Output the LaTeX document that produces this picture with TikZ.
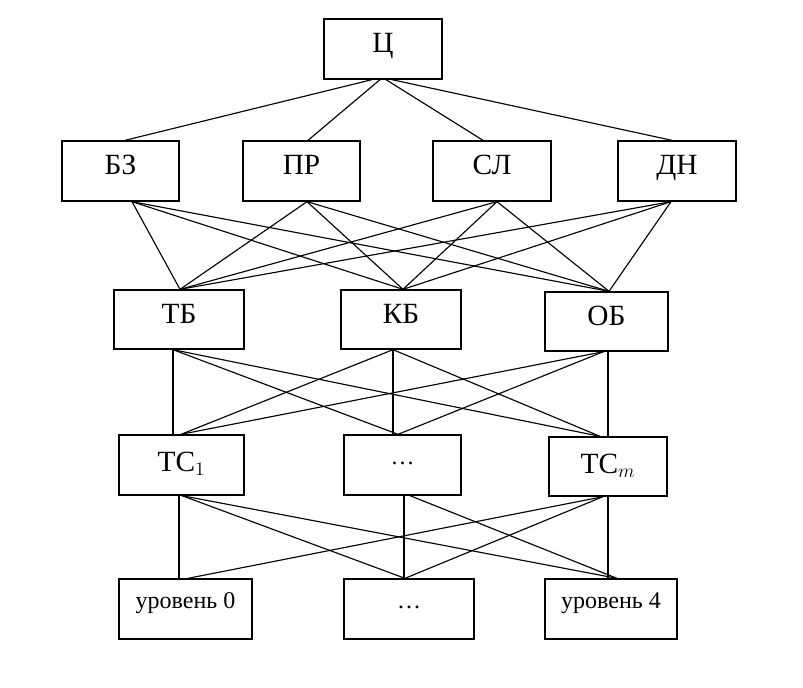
\documentclass[tikz,border=0pt]{standalone}
\usepackage{fontspec}
\setmainfont{Liberation Serif}
\usetikzlibrary{calc}
\begin{document}
\begin{tikzpicture}[x=0.75pt,y=-0.75pt,
  box/.style={draw, line width=1pt, inner sep=0pt, font=\fontsize{22}{26}\selectfont, text height=14.5pt, text depth=8.5pt},
  tcbox/.style={box, text height=14.5pt, text depth=4.5pt},
  lvbox/.style={box, font=\fontsize{18}{21}\selectfont, text height=11pt, text depth=12.5pt},
  link/.style={line width=0.85pt}]
\useasboundingbox (0,0) rectangle (803,688);
% level 1
\node[box, minimum width=88.5pt, minimum height=45pt] (c) at (383,49) {Ц};
% level 2
\node[box, minimum width=87.75pt, minimum height=45pt] (bz) at (120.5,171) {БЗ};
\node[box, minimum width=87.75pt, minimum height=45pt] (pr) at (301.5,171) {ПР};
\node[box, minimum width=88.5pt, minimum height=45pt] (sl) at (492,171) {СЛ};
\node[box, minimum width=88.5pt, minimum height=45pt] (dn) at (677,171) {ДН};
% level 3
\node[box, minimum width=97.5pt, minimum height=44.25pt] (tb) at (179,319.5) {ТБ};
\node[box, minimum width=90pt, minimum height=44.25pt] (kb) at (401,319.5) {КБ};
\node[box, minimum width=92.25pt, minimum height=44.25pt] (ob) at (606.5,321.5) {ОБ};
% level 4
\node[tcbox, minimum width=93.75pt, minimum height=45pt] (tc1) at (181.5,465) {ТС$_1$\hspace{12pt}};
\node[tcbox, font=\fontsize{18}{21}\selectfont, minimum width=87.75pt, minimum height=45pt] (tcd) at (402.5,465) {\raisebox{0.28em}{…}\hspace{13pt}};
\node[tcbox, minimum width=88.5pt, minimum height=44.25pt] (tcm) at (608,466.5) {ТС$_m$\hspace{13pt}};
% level 5
\node[lvbox, minimum width=99.75pt, minimum height=45pt] (l0) at (185.5,609) {уровень 0};
\node[lvbox, minimum width=97.5pt, minimum height=45pt] (ld) at (409,609) {…\hspace{13.5pt}};
\node[lvbox, minimum width=99pt, minimum height=45pt] (l4) at (611,609) {уровень 4};
% level 1 -> 2
\draw[link] ($(c.south)+(-11,0)$) -- ($(bz.north)+(4.5,0)$);
\draw[link] ($(c.south)+(-3,0)$) -- ($(pr.north)+(6.5,0)$);
\draw[link] ($(c.south)+(3,0)$) -- ($(sl.north)+(-9,0)$);
\draw[link] ($(c.south)+(9,0)$) -- ($(dn.north)+(-5,0)$);
% level 2 -> 3
\foreach \a/\da in {bz/11.5, pr/5.5, sl/5, dn/-6}{
  \foreach \b/\db in {tb/1, kb/2, ob/2.5}{
    \draw[link] ($(\a.south)+(\da,0)$) -- ($(\b.north)+(\db,0)$);
  }
}
% level 3 -> 4
\draw[link] ($(tb.south)+(-6,0)$) -- ($(tc1.north)+(-8.5,0)$);
\draw[link] ($(tb.south)+(-6,0)$) -- ($(tcd.north)+(-4.5,0)$);
\draw[link] ($(tb.south)+(-6,0)$) -- ($(tcm.north)+(-8,0)$);
\draw[link] ($(kb.south)+(-8,0)$) -- ($(tc1.north)+(-0.5,0)$);
\draw[link] ($(kb.south)+(-8,0)$) -- ($(tcd.north)+(-9.5,0)$);
\draw[link] ($(kb.south)+(-8,0)$) -- ($(tcm.north)+(-8,0)$);
\draw[link] ($(ob.south)+(-3,0)$) -- ($(tc1.north)+(-0.5,0)$);
\draw[link] ($(ob.south)+(-3,0)$) -- ($(tcd.north)+(-4.5,0)$);
\draw[link] ($(ob.south)+(1.5,0)$) -- ($(tcm.north)+(0,0)$);
% level 4 -> 5
\draw[link] ($(tc1.south)+(-2.5,0)$) -- ($(l0.north)+(-6.5,0)$);
\draw[link] ($(tc1.south)+(0.5,0)$) -- ($(ld.north)+(-4,0)$);
\draw[link] ($(tc1.south)+(0.5,0)$) -- ($(l4.north)+(6,0)$);
\draw[link] ($(tcd.south)+(1.5,0)$) -- ($(ld.north)+(-5,0)$);
\draw[link] ($(tcd.south)+(7.5,0)$) -- ($(l4.north)+(6,0)$);
\draw[link] ($(tcm.south)+(-5,0)$) -- ($(l0.north)+(2.5,0)$);
\draw[link] ($(tcm.south)+(-5,0)$) -- ($(ld.north)+(-4,0)$);
\draw[link] ($(tcm.south)+(0,0)$) -- ($(l4.north)+(-3,0)$);
\end{tikzpicture}
\end{document}
